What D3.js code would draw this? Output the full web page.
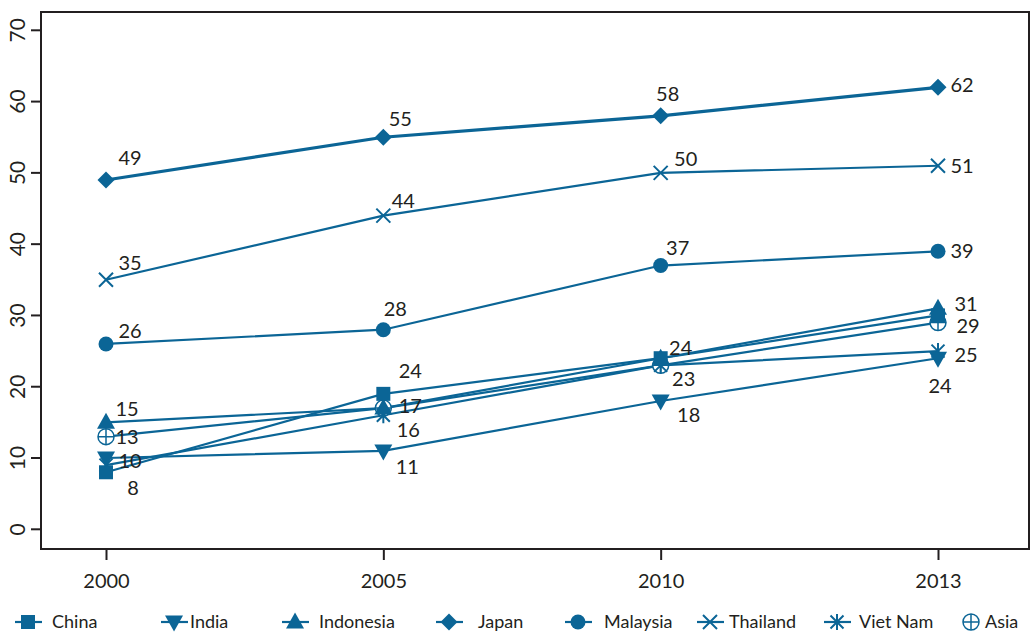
<!DOCTYPE html>
<html><head><meta charset="utf-8">
<script src="https://cdn.jsdelivr.net/npm/d3@7"></script>
<style>
body{margin:0;background:#fff;}
text{font-family:Lato,"Open Sans",sans-serif;fill:#231f20;}
</style></head><body>
<svg id="c" width="1031" height="633"></svg>
<script>
// ---------- data ----------
const years = ["2000","2005","2010","2013"];
const yTicks = [0,10,20,30,40,50,60,70];
const seriesNames = ["China","India","Indonesia","Japan","Malaysia","Thailand","Viet Nam","Asia"];
const china     = [8, 19, 24, 30];
const india     = [10, 11, 18, 24];
const indonesia = [15, 17, 24, 31];
const japan     = [49, 55, 58, 62];
const malaysia  = [26, 28, 37, 39];
const thailand  = [35, 44, 50, 51];
const vietNam   = [9, 16, 23, 25];
const asia      = [13, 17, 23, 29];
const seriesValues = [china, india, indonesia, japan, malaysia, thailand, vietNam, asia];
// value labels shown on the chart: [series index, year index, text]
const labelTexts = [
 [3,0,"49"],[5,0,"35"],[4,0,"26"],[2,0,"15"],[7,0,"13"],[1,0,"10"],[0,0,"8"],
 [3,1,"55"],[5,1,"44"],[4,1,"28"],[0,1,"24"],[2,1,"17"],[6,1,"16"],[1,1,"11"],
 [3,2,"58"],[5,2,"50"],[4,2,"37"],[0,2,"24"],[7,2,"23"],[1,2,"18"],
 [3,3,"62"],[5,3,"51"],[4,3,"39"],[2,3,"31"],[7,3,"29"],[6,3,"25"],[1,3,"24"]
];
// ---------- layout ----------
const labelOffsets = [
 [24,-22],[24,-17],[24,-13],[21,-14],[21,0],[24,3],[27,16],
 [17,-18],[20,-15],[12,-21],[27,-23],[27,-2],[25,15],[24,16],
 [7,-22],[25,-14],[17,-18],[20,-10],[23,13],[28,14],
 [24,-3],[24,0],[24,0],[28,-5],[30,3],[28,4],[2,28]
];
const color = "#0b6596";
const plot = {l:41,t:12,r:1029,b:549};
const svg = d3.select("#c");
const x = d3.scalePoint().domain(years).range([106,938]);
const y = d3.scaleLinear().domain([0,70]).range([529.3,30.3]);

// frame
svg.append("rect").attr("x",plot.l).attr("y",plot.t).attr("width",plot.r-plot.l).attr("height",plot.b-plot.t)
 .attr("fill","none").attr("stroke","#231f20").attr("stroke-width",2);

// axes
const yAxis = svg.append("g").attr("transform",`translate(${plot.l},0)`)
 .call(d3.axisLeft(y).tickValues(yTicks).tickSize(10).tickPadding(0));
yAxis.select(".domain").remove();
yAxis.selectAll("line").attr("stroke","#231f20").attr("stroke-width",2);
yAxis.selectAll(".tick").attr("transform",null);
yAxis.selectAll(".tick line").attr("y1",d=>y(d)).attr("y2",d=>y(d));
yAxis.selectAll("text").attr("x",null).attr("dy","0.36em").attr("y",0)
 .attr("text-anchor","middle").style("font-size","21px")
 .attr("transform",d=>`translate(-24,${y(d)}) rotate(-90)`);

const xAxis = svg.append("g").attr("transform",`translate(0,${plot.b})`)
 .call(d3.axisBottom(x).tickSize(11).tickPadding(14));
xAxis.select(".domain").remove();
xAxis.selectAll("line").attr("stroke","#231f20").attr("stroke-width",2);
xAxis.selectAll("text").style("font-size","20px").attr("fill","#231f20");

// symbols
function drawSymbol(g, idx){
  const c=color;
  switch(idx){
   case 0: g.append("rect").attr("x",-7).attr("y",-7).attr("width",14).attr("height",14).attr("fill",c); break;
   case 1: g.append("path").attr("d","M-9,-6.5L9,-6.5L0,9.5Z").attr("fill",c); break;
   case 2: g.append("path").attr("d","M-9,6.5L9,6.5L0,-9.5Z").attr("fill",c); break;
   case 3: g.append("path").attr("d","M0,-8.5L8.5,0L0,8.5L-8.5,0Z").attr("fill",c); break;
   case 4: g.append("circle").attr("r",7.5).attr("fill",c); break;
   case 5: g.append("path").attr("d","M-7,-7L7,7M-7,7L7,-7").attr("stroke",c).attr("stroke-width",2).attr("fill","none"); break;
   case 6: g.append("path").attr("d","M-6.5,-6.5L6.5,6.5M-6.5,6.5L6.5,-6.5M0,-8L0,8").attr("stroke",c).attr("stroke-width",2).attr("fill","none"); break;
   case 7: g.append("circle").attr("r",8).attr("fill","#fff").attr("stroke",c).attr("stroke-width",1.5);
           g.append("path").attr("d","M-8,0L8,0M0,-8L0,8").attr("stroke",c).attr("stroke-width",1.5); break;
  }
}

// lines
const line = d3.line().x((d,i)=>x(years[i])).y(d=>y(d));
const order=[7,6,5,4,1,2,0,3];
order.forEach(si=>{
  svg.append("path").datum(seriesValues[si]).attr("d",line).attr("fill","none")
   .attr("stroke",color).attr("stroke-width",si===3?3.2:2.2);
});
order.forEach(si=>{
  seriesValues[si].forEach((v,i)=>{
    const g=svg.append("g").attr("transform",`translate(${x(years[i])},${y(v)})`);
    drawSymbol(g,si);
  });
});

// value labels
labelTexts.forEach((l,k)=>{
  const [si,yi,t]=l; const o=labelOffsets[k];
  svg.append("text").attr("x",x(years[yi])+o[0]).attr("y",y(seriesValues[si][yi])+o[1])
   .attr("text-anchor","middle").attr("dy","0.36em").style("font-size","20px").text(t);
});

// legend
const legendX=[28,174,295,449,578,710,837,971];
const legendTextX=[52,190,319,478,604,729,859,985];
const ly=622;
seriesNames.forEach((n,i)=>{
  if(i!==7){
    svg.append("line").attr("x1",legendX[i]-13).attr("x2",legendX[i]+14).attr("y1",ly).attr("y2",ly)
     .attr("stroke",color).attr("stroke-width",2.2);
  }
  const g=svg.append("g").attr("transform",`translate(${legendX[i]},${ly})`);
  drawSymbol(g,i);
  svg.append("text").attr("x",legendTextX[i]).attr("y",ly).attr("dy","0.36em")
   .style("font-size","18px").text(n);
});
</script></body></html>
